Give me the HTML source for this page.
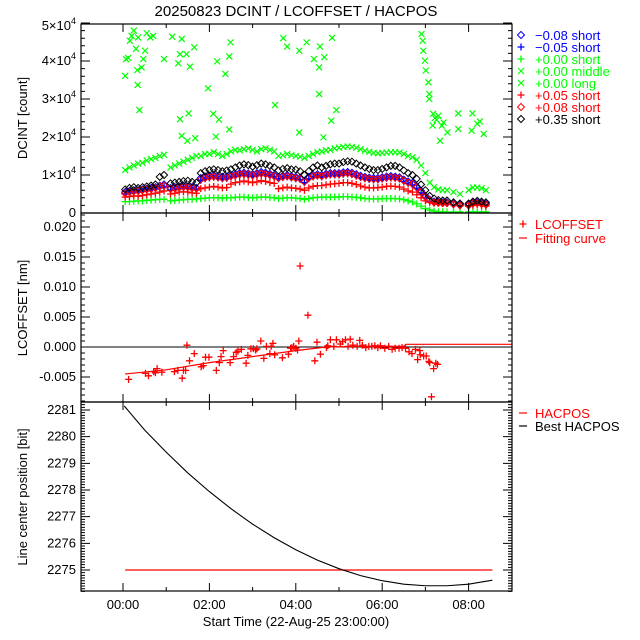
<!DOCTYPE html>
<html><head><meta charset="utf-8"><style>
html,body{margin:0;padding:0;background:#fff;}
svg{display:block;font-family:"Liberation Sans",sans-serif;}
</style></head><body>
<svg id="chart" width="640" height="640" viewBox="0 0 640 640" xmlns="http://www.w3.org/2000/svg">
<rect x="0" y="0" width="640" height="640" fill="#fff"/>
<text x="296" y="16" font-size="15" text-anchor="middle">20250823 DCINT / LCOFFSET / HACPOS</text>
<text x="296" y="626" font-size="13" text-anchor="middle">Start Time (22-Aug-25 23:00:00)</text>
<text transform="translate(27,118) rotate(-90)" font-size="13" text-anchor="middle">DCINT [count]</text>
<text transform="translate(27,308) rotate(-90)" font-size="13" text-anchor="middle">LCOFFSET [nm]</text>
<text transform="translate(27,497) rotate(-90)" font-size="13" text-anchor="middle">Line center position [bit]</text>
<g id="g-data"></g>
<g id="g-axes"></g>
<g id="g-legend"></g>
</svg>
<script>
// ---------- DATA ----------
const xTickHours = [0, 2, 4, 6, 8];
const xTickLabels = ["00:00", "02:00", "04:00", "06:00", "08:00"];
const dcTicks = [0, 1, 2, 3, 4, 5];
const lcTicks = [-0.005, 0.000, 0.005, 0.010, 0.015, 0.020];
const lcTickLabels = ["-0.005", "0.000", "0.005", "0.010", "0.015", "0.020"];
const hpTicks = [2275, 2276, 2277, 2278, 2279, 2280, 2281];

// band series time grid (hours)
const bandTime = [0.05,0.15,0.25,0.35,0.45,0.55,0.65,0.75,0.85,0.95,
 1.1,1.2,1.3,1.4,1.5,1.6,1.7,
 1.8,1.9,2.0,2.1,2.2,2.3,2.4,
 2.5,2.6,2.7,2.8,2.9,3.0,3.1,3.2,3.3,3.4,3.5,
 3.6,3.7,3.8,3.9,4.0,4.1,
 4.2,4.3,4.4,4.5,4.6,4.7,4.8,4.9,
 5.0,5.1,5.2,5.3,5.4,5.5,5.6,5.7,5.8,5.9,6.0,6.1,6.2,6.3,6.4,6.5,6.6,6.7,6.8,6.9,7.0,7.1,7.2,
 7.3,7.4,7.5,7.65,7.8,
 8.0,8.1,8.2,8.3,8.4];
// DCINT values in units of 1e4 counts
const greenMiddle = [1.13,1.2,1.25,1.3,1.32,1.38,1.42,1.45,1.5,1.53,
 1.2,1.25,1.3,1.35,1.4,1.45,1.5,
 1.5,1.55,1.55,1.6,1.55,1.5,1.55,
 1.62,1.66,1.65,1.68,1.7,1.66,1.62,1.68,1.7,1.66,1.62,
 1.5,1.52,1.55,1.52,1.5,1.48,
 1.45,1.5,1.55,1.6,1.62,1.65,1.66,1.7,
 1.72,1.74,1.75,1.74,1.72,1.68,1.64,1.61,1.58,1.57,1.58,1.59,1.6,1.6,1.59,1.55,1.5,1.47,1.4,1.25,1.05,0.8,0.68,
 0.62,0.6,0.6,0.55,0.5,
 0.6,0.67,0.67,0.65,0.6];
const black35 = [0.62,0.66,0.68,0.66,0.68,0.7,0.72,0.75,0.95,1.0,
 0.78,0.8,0.82,0.84,0.85,0.82,0.8,
 1.05,1.1,1.13,1.15,1.13,1.1,1.12,
 1.15,1.2,1.25,1.28,1.26,1.22,1.26,1.3,1.28,1.24,1.2,
 1.12,1.16,1.18,1.15,1.14,1.1,
 1.0,1.1,1.2,1.25,1.2,1.24,1.28,1.3,
 1.3,1.34,1.36,1.35,1.3,1.25,1.2,1.16,1.13,1.13,1.16,1.2,1.24,1.24,1.2,1.12,1.05,1.0,0.9,0.75,0.6,0.45,0.38,
 0.34,0.33,0.33,0.28,0.25,
 0.25,0.3,0.32,0.3,0.28];
const blueM08 = [0.55,0.58,0.6,0.6,0.62,0.64,0.66,0.68,0.72,0.75,
 0.66,0.68,0.7,0.72,0.7,0.68,0.66,
 0.92,0.96,0.98,1.0,0.97,0.95,0.96,
 1.0,1.02,1.05,1.06,1.04,1.02,1.05,1.08,1.06,1.03,1.0,
 0.95,0.98,1.0,0.97,0.95,0.92,
 0.85,0.95,1.0,1.02,1.0,1.03,1.05,1.05,
 1.05,1.07,1.08,1.06,1.02,0.98,0.95,0.93,0.92,0.92,0.94,0.96,0.97,0.96,0.94,0.88,0.83,0.79,0.7,0.58,0.45,0.35,0.3,
 0.29,0.28,0.28,0.25,0.22,
 0.22,0.27,0.28,0.26,0.24];
const redP08 = [0.52,0.55,0.57,0.58,0.6,0.62,0.63,0.66,0.7,0.72,
 0.63,0.65,0.67,0.69,0.68,0.66,0.64,
 0.88,0.92,0.95,0.96,0.94,0.92,0.93,
 0.97,0.99,1.02,1.03,1.01,0.99,1.02,1.04,1.03,1.0,0.97,
 0.92,0.95,0.97,0.94,0.92,0.9,
 0.82,0.92,0.97,0.99,0.97,1.0,1.02,1.02,
 1.02,1.04,1.05,1.03,0.99,0.95,0.92,0.9,0.89,0.89,0.91,0.93,0.94,0.93,0.91,0.85,0.8,0.76,0.67,0.55,0.42,0.33,0.28,
 0.27,0.26,0.26,0.23,0.2,
 0.2,0.25,0.26,0.24,0.22];
const blueM05 = [0.5,0.53,0.55,0.55,0.57,0.59,0.61,0.63,0.66,0.69,
 0.6,0.62,0.64,0.66,0.65,0.63,0.61,
 0.86,0.9,0.92,0.94,0.92,0.9,0.91,
 0.95,0.97,1.0,1.01,0.99,0.97,1.0,1.02,1.0,0.98,0.95,
 0.9,0.93,0.95,0.92,0.9,0.88,
 0.8,0.9,0.95,0.97,0.95,0.98,1.0,1.0,
 1.0,1.02,1.03,1.01,0.97,0.93,0.9,0.88,0.87,0.87,0.89,0.91,0.92,0.91,0.89,0.83,0.78,0.74,0.65,0.53,0.4,0.31,0.27,
 0.26,0.25,0.25,0.22,0.19,
 0.19,0.23,0.25,0.23,0.21];
const redP05 = [0.42,0.43,0.45,0.44,0.46,0.48,0.5,0.52,0.55,0.58,
 0.5,0.52,0.55,0.56,0.55,0.53,0.52,
 0.64,0.66,0.68,0.7,0.68,0.66,0.67,
 0.76,0.8,0.82,0.84,0.82,0.8,0.82,0.85,0.83,0.8,0.78,
 0.64,0.66,0.68,0.66,0.65,0.63,
 0.6,0.66,0.7,0.72,0.72,0.74,0.76,0.77,
 0.78,0.8,0.8,0.78,0.75,0.71,0.68,0.66,0.66,0.67,0.68,0.7,0.71,0.7,0.68,0.63,0.58,0.55,0.48,0.4,0.32,0.28,0.26,
 0.26,0.25,0.25,0.22,0.2,
 0.18,0.2,0.22,0.2,0.18];
const greenShort = [0.3,0.3,0.31,0.32,0.32,0.33,0.34,0.35,0.36,0.36,
 0.32,0.33,0.34,0.35,0.36,0.36,0.37,
 0.38,0.39,0.4,0.4,0.4,0.39,0.4,
 0.4,0.41,0.42,0.42,0.41,0.4,0.41,0.42,0.42,0.41,0.4,
 0.38,0.39,0.4,0.4,0.39,0.38,
 0.36,0.38,0.4,0.41,0.42,0.42,0.42,0.42,
 0.42,0.43,0.43,0.42,0.41,0.4,0.38,0.37,0.37,0.37,0.38,0.38,0.38,0.38,0.37,0.35,0.32,0.29,0.24,0.18,0.12,0.08,0.05,
 0.03,0.03,0.03,0.03,0.03,
 0.03,0.03,0.03,0.03,0.03];
// scattered "+0.00 long" points (hours, 1e4 counts)
const longTime = [0.05,0.07,0.12,0.16,0.2,0.25,0.3,0.35,0.33,0.34,0.47,0.51,0.55,0.63,0.7,0.43,0.38,0.95,1.14,1.36,1.32,1.47,1.28,1.55,1.65,1.32,1.52,1.36,1.49,1.67,1.97,2.09,2.22,2.18,2.46,2.49,2.37,2.46,2.15,3.52,3.71,3.8,4.08,4.08,4.25,4.42,4.56,4.66,4.54,4.54,4.84,4.94,4.82,4.64,
 6.91,6.94,6.95,6.99,7.01,7.07,7.09,7.09,7.18,7.3,7.42,7.51,7.17,7.76,7.76,8.09,8.26,8.35,8.07,7.34,7.22,7.26,7.38,8.2];
const longValue = [3.61,4.05,4.08,4.53,4.66,4.8,4.32,4.62,3.76,3.37,4.05,4.27,4.73,4.62,4.66,3.83,2.71,4.05,4.64,4.58,4.18,4.18,3.94,3.85,4.36,2.47,2.62,2.03,1.9,1.97,3.28,2.61,2.46,3.99,4.12,4.49,3.66,2.2,2.01,2.84,4.6,4.38,4.27,2.12,4.49,4.05,4.38,4.1,3.83,3.13,4.61,2.71,2.43,1.99,
 4.71,4.53,4.27,4.01,3.75,3.44,3.13,3.0,2.61,2.56,2.38,2.12,2.3,2.62,2.21,2.62,2.41,2.08,2.17,1.9,2.5,2.45,2.3,2.35];
// LCOFFSET points (hours, 1e-3 nm)
const lcTime = [0.13,0.52,0.59,0.71,0.75,0.79,0.9,1.19,1.27,1.37,1.4,1.45,1.48,1.54,1.65,1.81,1.86,1.91,1.99,2.16,2.23,2.27,2.32,2.48,2.56,2.62,2.66,2.74,2.85,2.89,2.96,3.02,3.07,3.1,3.19,3.26,3.32,3.4,3.43,3.47,3.51,3.69,3.83,3.88,3.91,3.95,4.0,4.04,4.07,4.1,4.28,4.44,4.49,4.57,4.71,4.74,4.8,4.88,4.94,5.03,5.08,5.15,5.21,5.26,5.32,5.42,5.48,5.54,5.62,5.69,5.76,5.83,5.9,5.96,6.06,6.15,6.23,6.3,6.39,6.46,6.54,6.62,6.69,6.77,6.82,6.87,6.88,6.96,7.02,7.08,7.1,7.14,7.19,7.24,7.28];
const lcValue = [-5.4,-4.4,-4.8,-4.1,-4.3,-3.6,-4.2,-4.1,-3.9,-5.2,-3.9,-3.9,0.3,-2.3,-1.1,-3.3,-3.1,-1.7,-1.7,-3.9,-2.6,-1.6,-0.6,-2.6,-1.6,-0.9,-0.7,-0.4,-2.7,-1.4,-0.3,-0.3,-0.5,-0.3,1.0,-1.9,0.1,-1.1,0.1,0.6,-1.3,-1.8,-1.2,-0.2,-0.1,0.1,-0.2,-0.5,1.0,13.5,5.3,-2.3,0.8,-1.2,-0.1,0.2,1.2,0.1,1.2,0.5,0.9,1.2,0.1,1.3,0.3,0.1,1.1,0.3,-0.1,0.1,0.1,0.2,-0.1,0.2,-0.2,0.1,-0.4,-0.2,-0.2,-0.1,-0.2,-0.8,-1.1,-0.4,-2.1,-0.6,-1.3,-1.5,-1.5,-2.4,-2.6,-8.3,-3.6,-2.7,-2.9];
const fitTime = [0.05,1.0,2.0,3.0,4.0,4.7,5.5,6.5,6.55,9.0];
const fitValue = [-4.5,-3.8,-2.6,-1.6,-0.6,0.0,0.1,0.1,0.45,0.45];
// HACPOS
const bestTime = [0.03,0.5,1.0,1.5,2.0,2.5,3.0,3.5,4.0,4.5,5.0,5.5,6.0,6.5,7.0,7.5,8.0,8.55];
const bestValue = [2281.15,2280.25,2279.42,2278.64,2277.94,2277.30,2276.72,2276.21,2275.76,2275.37,2275.05,2274.79,2274.60,2274.47,2274.41,2274.41,2274.47,2274.62];
const hacTime = [0.05,8.55];
const hacValue = [2275,2275];

// ---------- SCALES ----------
const X0 = 81, X1 = 512;
const P1 = [24, 213], P2 = [213, 402], P3 = [402, 591];
function xs(t){ return 123 + t*43.2; }
function yDc(v){ return 213 - v*38; }
function yLc(v){ return 347 - v*6; }
function yHp(v){ return 410 + (2281 - v)*26.67; }

const NS = "http://www.w3.org/2000/svg";
function mk(parent, tag, attrs){
  const e = document.createElementNS(NS, tag);
  for (const k in attrs) e.setAttribute(k, attrs[k]);
  parent.appendChild(e);
  return e;
}
const gData = document.getElementById('g-data');
const gAxes = document.getElementById('g-axes');
const gLeg = document.getElementById('g-legend');

function marker(parent, kind, cx, cy, color){
  const s = 3.5;
  let e;
  if (kind === 'diamond'){
    e = mk(parent, 'path', {d:`M${cx} ${cy-s}L${cx+s} ${cy}L${cx} ${cy+s}L${cx-s} ${cy}Z`, fill:'none', stroke:color, 'stroke-width':1});
  } else if (kind === 'plus'){
    e = mk(parent, 'path', {d:`M${cx-s} ${cy}H${cx+s}M${cx} ${cy-s}V${cy+s}`, fill:'none', stroke:color, 'stroke-width':1.3});
  } else {
    e = mk(parent, 'path', {d:`M${cx-3} ${cy-3}L${cx+3} ${cy+3}M${cx-3} ${cy+3}L${cx+3} ${cy-3}`, fill:'none', stroke:color, 'stroke-width':1.2});
  }
  return e;
}

const defs = mk(document.getElementById('chart'), 'defs', {});
[[P1,'c1'],[P2,'c2'],[P3,'c3']].forEach(([p,id])=>{
  const cp = mk(defs, 'clipPath', {id:id});
  mk(cp, 'rect', {x:X0, y:p[0], width:X1-X0, height:p[1]-p[0]});
});

// ---------- TOP PANEL SERIES ----------
function drawSeries(times, vals, kind, color, name){
  const g = mk(gData, 'g', {'clip-path':'url(#c1)'});
  
  
  for (let i=0;i<times.length;i++){
    const m = marker(g, kind, xs(times[i]), yDc(vals[i]), color);
    
    
  }
}
drawSeries(bandTime, blueM08, 'diamond', '#0000ff', 'series-minus008-short');
drawSeries(bandTime, blueM05, 'plus', '#0000ff', 'series-minus005-short');
drawSeries(bandTime, greenShort, 'plus', '#00ff00', 'series-000-short');
drawSeries(bandTime, greenMiddle, 'cross', '#00ff00', 'series-000-middle');
drawSeries(longTime, longValue, 'cross', '#00ff00', 'series-000-long');
drawSeries(bandTime, redP05, 'plus', '#ff0000', 'series-plus005-short');
drawSeries(bandTime, redP08, 'diamond', '#ff0000', 'series-plus008-short');
drawSeries(bandTime, black35, 'diamond', '#000000', 'series-plus035-short');

// ---------- MIDDLE PANEL ----------
const zl = mk(gData, 'line', {x1:X0, x2:X1, y1:yLc(0), y2:yLc(0), stroke:'#000', 'stroke-width':1});


const gLc = mk(gData, 'g', {'clip-path':'url(#c2)'});


for (let i=0;i<lcTime.length;i++){
  const m = marker(gLc, 'plus', xs(lcTime[i]), yLc(lcValue[i]), '#ff0000');
  
  
}
const fit = mk(gData, 'polyline', {points: fitTime.map((t,i)=>xs(t)+','+yLc(fitValue[i])).join(' '), fill:'none', stroke:'#ff0000', 'stroke-width':1.2, 'clip-path':'url(#c2)'});



// ---------- BOTTOM PANEL ----------
const hac = mk(gData, 'polyline', {points: hacTime.map((t,i)=>xs(t)+','+yHp(hacValue[i])).join(' '), fill:'none', stroke:'#ff0000', 'stroke-width':1.2});


const best = mk(gData, 'polyline', {points: bestTime.map((t,i)=>xs(t)+','+yHp(bestValue[i])).join(' '), fill:'none', stroke:'#000', 'stroke-width':1.1});



// ---------- AXES ----------
[P1,P2,P3].forEach((p,pi)=>{
  const r = mk(gAxes, 'rect', {x:X0, y:p[0], width:X1-X0, height:p[1]-p[0], fill:'none', stroke:'#000', 'stroke-width':1.2});
  
  
  for (let h=0; h<=8; h++){
    const len = (h%2===0) ? 8 : 4;
    const x = xs(h);
    const tk = mk(gAxes, 'path', {d:`M${x} ${p[1]}V${p[1]-len}M${x} ${p[0]}V${p[0]+len}`, stroke:'#000', 'stroke-width':1});
    
    
  }
});
function yTicks(p, lo, hi, step, majors, yf, name){
  let d = '';
  const n = Math.round((hi-lo)/step);
  for (let i=0;i<=n;i++){
    const v = lo + i*step, y = yf(v);
    if (y < p[0]-0.5 || y > p[1]+0.5) continue;
    d += `M${X0} ${y}H${X0+4}M${X1} ${y}H${X1-4}`;
  }
  majors.forEach(v=>{ const y=yf(v); d += `M${X0} ${y}H${X0+9}M${X1} ${y}H${X1-9}`; });
  const e = mk(gAxes, 'path', {d:d, stroke:'#000', 'stroke-width':1});
  
  
}
yTicks(P1, 0, 5, 0.2, dcTicks, yDc, 'dcint-y-ticks');
yTicks(P2, -9, 22, 1, lcTicks.map(v=>v*1000), yLc, 'lcoffset-y-ticks');
yTicks(P3, 2274.2, 2281.3, 0.1, hpTicks, yHp, 'hacpos-y-ticks');

xTickHours.forEach((h,i)=>{
  const t = mk(gAxes, 'text', {x:xs(h), y:609, 'font-size':13, 'text-anchor':'middle'});
  t.textContent = xTickLabels[i];
  
  
});
dcTicks.forEach(v=>{
  const t = mk(gAxes, 'text', {x:76, y:yDc(v)+ (v===5?7:4), 'font-size':13, 'text-anchor':'end'});
  if (v === 0) t.textContent = '0';
  else {
    t.textContent = v + '\u00d710';
    const s = mk(t, 'tspan', {dy:-6, 'font-size':9});
    s.textContent = '4';
  }
  
  
});
lcTicks.forEach((v,i)=>{
  const t = mk(gAxes, 'text', {x:76, y:yLc(v*1000)+4, 'font-size':13, 'text-anchor':'end'});
  t.textContent = lcTickLabels[i];
  
  
});
hpTicks.forEach(v=>{
  const t = mk(gAxes, 'text', {x:76, y:yHp(v)+4, 'font-size':13, 'text-anchor':'end'});
  t.textContent = String(v);
  
  
});

// ---------- LEGENDS ----------
const legItems = [
  ['diamond','#0000ff','\u22120.08 short'],
  ['plus','#0000ff','\u22120.05 short'],
  ['plus','#00ff00','+0.00 short'],
  ['cross','#00ff00','+0.00 middle'],
  ['cross','#00ff00','+0.00 long'],
  ['plus','#ff0000','+0.05 short'],
  ['diamond','#ff0000','+0.08 short'],
  ['diamond','#000000','+0.35 short']
];
legItems.forEach((it,i)=>{
  const y = 35 + i*12;
  const m = marker(gLeg, it[0], 521, y, it[1]);
  
  
  const t = mk(gLeg, 'text', {x:535, y:y+5, 'font-size':13, fill:it[1]});
  t.textContent = it[2];
  
  
});
function lineLeg(y, color, label, kind){
  if (kind === 'plus'){
    const m = marker(gLeg, 'plus', 523, y, color);
    
    
  } else {
    const l = mk(gLeg, 'line', {x1:519, x2:527, y1:y, y2:y, stroke:color, 'stroke-width':1.2});
    
    
  }
  const t = mk(gLeg, 'text', {x:535, y:y+5, 'font-size':13, fill:color});
  t.textContent = label;
  
  
}
lineLeg(224, '#ff0000', 'LCOFFSET', 'plus');
lineLeg(238, '#ff0000', 'Fitting curve', 'line');
lineLeg(413, '#ff0000', 'HACPOS', 'line');
lineLeg(426, '#000000', 'Best HACPOS', 'line');
</script>
</body></html>
